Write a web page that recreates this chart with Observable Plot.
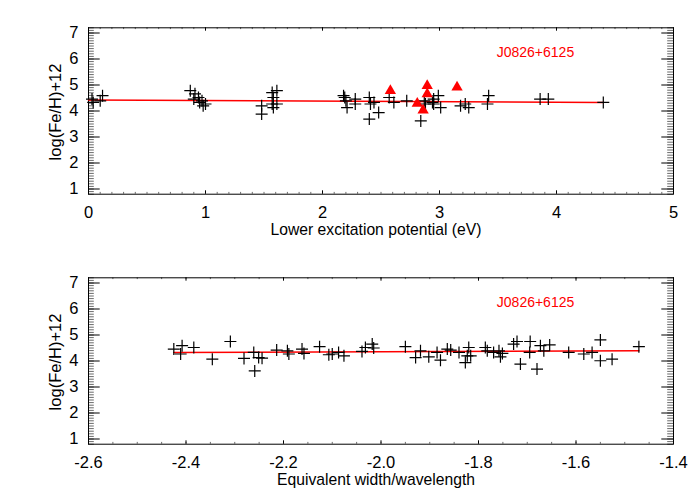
<!DOCTYPE html>
<html><head><meta charset="utf-8">
<script src="https://cdn.jsdelivr.net/npm/d3@7"></script>
<script src="https://cdn.jsdelivr.net/npm/@observablehq/plot@0.6"></script>
<style>
body{margin:0;background:#fff;}
#chart{width:700px;height:500px;}
#chart svg{display:block;}
</style></head><body><div id="chart"></div>
<script>
const starName = "J0826+6125";
const yLabel = "log(Fe/H)+12";
const topXLabel = "Lower excitation potential (eV)";
const bottomXLabel = "Equivalent width/wavelength";

// Top panel: Fe I lines (crosses)
const topX = [0.03,0.04,0.12,0.10, 0.87,0.91,0.90,0.94,0.97,0.98,1.00,0.95,
  1.48,1.48,1.57,1.58,1.57,1.61,1.61,1.58, 2.18,2.20,2.21,2.28,2.28,2.19,
  2.40,2.41,2.40,2.44,2.48, 2.57,2.61, 2.72, 2.84,2.87,2.88,2.95,2.99,3.01,2.94,2.95,
  3.18,3.22,3.25, 3.41,3.42, 3.86,3.93, 4.40];
const topY = [4.46,4.33,4.59,4.39, 4.78,4.66,4.46,4.52,4.39,4.20,4.27,4.33,
  4.20,3.88,4.71,4.52,4.27,4.78,4.27,4.13, 4.59,4.39,4.13,4.46,4.27,4.52,
  4.52,4.27,3.69,4.33,3.94, 4.52,4.33, 4.39, 3.62,4.39,4.27,4.27,4.59,4.13,4.33,4.46,
  4.20,4.27,4.13, 4.27,4.59, 4.46,4.46, 4.33];
// Top panel: Fe II lines (triangles)
const triX = [2.58,2.895,2.895,2.81,2.86,3.15];
const triY = [4.78,4.97,4.65,4.29,4.03,4.91];
const topFitX = [0, 4.4];
const topFitY = [4.42, 4.33];

// Bottom panel
const botX = [-2.425,-2.408,-2.411,-2.384,-2.346,-2.309,-2.281,-2.259,-2.261,-2.251,-2.244,-2.214,-2.192,-2.189,-2.162,-2.158,-2.126,-2.107,-2.100,-2.087,
  -2.076,-2.039,-2.032,-2.018,-2.015,-1.950,-1.929,-1.919,-1.902,-1.885,-1.878,-1.864,-1.857,-1.840,-1.827,-1.823,-1.820,-1.816,-1.786,-1.782,-1.769,-1.758,-1.755,-1.751,-1.728,-1.721,-1.714,-1.694,
  -1.695,-1.680,-1.673,-1.666,-1.654,-1.615,-1.584,-1.567,-1.550,-1.550,-1.526,-1.471];
const botY = [4.46,4.59,4.27,4.52,4.07,4.75,4.10,3.62,4.33,4.13,4.11,4.42,4.39,4.27,4.46,4.29,4.55,4.24,4.27,4.33,
  4.20,4.37,4.52,4.65,4.50,4.55,4.13,4.39,4.16,4.33,4.03,4.46,4.42,4.33,3.94,4.20,4.52,4.20,4.52,4.39,4.33,4.39,4.16,4.29,4.65,4.75,3.88,4.75,
  4.33,3.69,4.59,4.39,4.62,4.33,4.27,4.33,4.81,4.01,4.07,4.55];
const botFitX = [-2.425, -1.471];
const botFitY = [4.33, 4.39];

const yTicks = [1,2,3,4,5,6,7];
const topXTicks = [0,1,2,3,4,5];
const topXTickLabels = ["0","1","2","3","4","5"];
const botXTicks = [-2.6,-2.4,-2.2,-2.0,-1.8,-1.6,-1.4];
const botXTickLabels = ["-2.6","-2.4","-2.2","-2.0","-1.8","-1.6","-1.4"];

const plusSymbol = {
  draw(ctx, size) {
    const r = Math.sqrt(size / Math.PI);
    ctx.moveTo(-r, 0); ctx.lineTo(r, 0);
    ctx.moveTo(0, -r); ctx.lineTo(0, r);
  }
};

const font = "'Liberation Sans', Arial, Helvetica, sans-serif";

function panel({xDomain, xTicks, xTickLabels, xMinor, xLabel, px, py, tx, ty, fitX, fitY, labelX}) {
  const W = 700, H = 250, ml = 88, mr = 27, mt = 27.3, mb = 56.3;
  const fw = W - ml - mr, fh = H - mt - mb;
  const yMinor = d3.range(8, 73).map(i => i / 10);
  const pts = px.map((x, i) => ({x, y: py[i]}));
  const tris = tx.map((x, i) => ({x, y: ty[i]}));
  const fit = fitX.map((x, i) => ({x, y: fitY[i]}));
  const yMajL = 11.7, yMinL = 5.8, xMajL = 3.4, xMinL = 1.8;
  return Plot.plot({
    width: W, height: H,
    marginLeft: ml, marginRight: mr, marginTop: mt, marginBottom: mb,
    style: {fontFamily: font, fontSize: "16px", background: "white", color: "black"},
    x: {domain: xDomain},
    y: {domain: [0.8, 7.2]},
    marks: [
      Plot.tickY(yMinor, {y: d => d, insetRight: fw - yMinL, stroke: "#444", strokeWidth: 0.8}),
      Plot.tickY(yMinor, {y: d => d, insetLeft: fw - yMinL, stroke: "#444", strokeWidth: 0.8}),
      Plot.tickY(yTicks, {y: d => d, insetRight: fw - yMajL, stroke: "black"}),
      Plot.tickY(yTicks, {y: d => d, insetLeft: fw - yMajL, stroke: "black"}),
      Plot.tickX(xMinor, {x: d => d, insetTop: fh - xMinL, stroke: "#444", strokeWidth: 0.8}),
      Plot.tickX(xMinor, {x: d => d, insetBottom: fh - xMinL, stroke: "#444", strokeWidth: 0.8}),
      Plot.tickX(xTicks, {x: d => d, insetTop: fh - xMajL, stroke: "black"}),
      Plot.tickX(xTicks, {x: d => d, insetBottom: fh - xMajL, stroke: "black"}),
      Plot.frame({stroke: "black", strokeWidth: 1}),
      Plot.axisX({ticks: xTicks, tickSize: 0, tickPadding: 12, label: null, fontSize: 16.5,
        tickFormat: d => xTickLabels[xTicks.indexOf(d)]}),
      Plot.axisY({ticks: yTicks, tickSize: 0, tickPadding: 10, label: null, fontSize: 16.5,
        tickFormat: d => String(d)}),
      Plot.text([xLabel], {text: d => d, frameAnchor: "bottom", lineAnchor: "middle", textAnchor: "middle", dy: 35.5, dx: -5, fontSize: 15.7}),
      Plot.text([yLabel], {text: d => d, frameAnchor: "left", lineAnchor: "middle", textAnchor: "middle", dx: -33, dy: 1, rotate: -90, fontSize: 16.5}),
      Plot.line(fit, {x: "x", y: "y", stroke: "#ff0000", strokeWidth: 1.5}),
      Plot.dot(pts, {x: "x", y: "y", symbol: plusSymbol, r: 6, stroke: "black", strokeWidth: 1.2, fill: "none"}),
      Plot.dot(tris, {x: "x", y: "y", symbol: "triangle", r: 4.2, fill: "#ff0000", stroke: "none"}),
      Plot.text([starName], {text: d => d, x: labelX, y: 6.25, fill: "#ff0000", fontSize: 14})
    ]
  });
}

const topPanel = panel({
  xDomain: [0, 5], xTicks: topXTicks, xTickLabels: topXTickLabels,
  xMinor: d3.range(0, 51).map(i => i / 10), xLabel: topXLabel,
  px: topX, py: topY, tx: triX, ty: triY, fitX: topFitX, fitY: topFitY, labelX: 3.82
});
const bottomPanel = panel({
  xDomain: [-2.6, -1.4], xTicks: botXTicks, xTickLabels: botXTickLabels,
  xMinor: d3.range(0, 25).map(i => -2.6 + i * 0.05), xLabel: bottomXLabel,
  px: botX, py: botY, tx: [], ty: [], fitX: botFitX, fitY: botFitY, labelX: -1.683
});
const chartEl = document.getElementById("chart");
chartEl.appendChild(topPanel);
chartEl.appendChild(bottomPanel);
</script>
</body></html>
